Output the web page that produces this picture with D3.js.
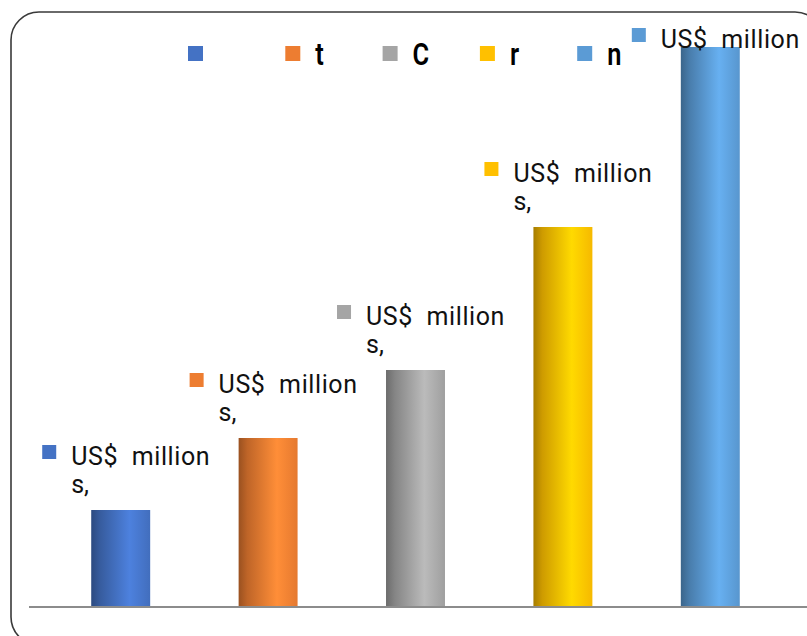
<!DOCTYPE html>
<html><head><meta charset="utf-8">
<script src="https://cdn.jsdelivr.net/npm/d3@7"></script>
<style>body{margin:0;background:#fff;}svg{display:block;}</style>
</head><body>
<svg id="c" width="807" height="636"></svg>
<script>
const categories = ["", "t", "C", "r", "n"];
const values = [97, 169, 237, 380, 560];
const colors = ["#4472C4", "#ED7D31", "#A5A5A5", "#FFC000", "#5B9BD5"];
const labelLine1 = ["US$  million", "US$  million", "US$  million", "US$  million", "US$  million"];
const labelLine2 = ["s,", "s,", "s,", "s,", ""];

const svg = d3.select("#c");

// frame
svg.append("rect").attr("x", 11).attr("y", 12).attr("width", 812).attr("height", 633)
  .attr("rx", 28).attr("ry", 28).attr("fill", "none").attr("stroke", "#3a3a3a").attr("stroke-width", 1.6);

const x = d3.scaleBand().domain(d3.range(categories.length)).range([47, 784])
  .paddingInner(0.6).paddingOuter(0.3);
const y = d3.scaleLinear().domain([0, 560]).range([607, 47]);

const defs = svg.append("defs");
colors.forEach((c, i) => {
  const g = defs.append("linearGradient").attr("id", "g" + i).attr("x1", "0%").attr("x2", "100%").attr("y1", "0%").attr("y2", "0%");
  g.append("stop").attr("offset", "0%").attr("stop-color", d3.rgb(c).darker(1.2));
  g.append("stop").attr("offset", "15%").attr("stop-color", d3.rgb(c).darker(0.6));
  g.append("stop").attr("offset", "65%").attr("stop-color", d3.rgb(c).brighter(0.35));
  g.append("stop").attr("offset", "100%").attr("stop-color", d3.rgb(c).darker(0.1));
});

svg.append("g").selectAll("rect").data(values).join("rect")
  .attr("x", (d, i) => x(i)).attr("width", x.bandwidth())
  .attr("y", d => y(d)).attr("height", d => y(0) - y(d))
  .attr("fill", (d, i) => `url(#g${i})`);

// axis line
svg.append("line").attr("x1", 29).attr("x2", 808).attr("y1", 607).attr("y2", 607)
  .attr("stroke", "#8c8c8c").attr("stroke-width", 2.2);

// legend
const lg = svg.append("g");
categories.forEach((c, i) => {
  const lx = 188 + i * 97.3;
  lg.append("rect").attr("x", lx).attr("y", 46).attr("width", 15).attr("height", 15).attr("fill", colors[i]);
  lg.append("text").attr("transform", `translate(${lx + 30},65) scale(0.82,1)`).text(c)
    .attr("font-family", "Roboto, sans-serif").attr("font-weight", 600).attr("font-size", 31).attr("fill", "#000");
});

// data labels
const dl = svg.append("g").attr("font-family", "Roboto, sans-serif").attr("font-size", 25).attr("fill", "#111");
values.forEach((v, i) => {
  const sx = x(i) - 49;
  const sy = Math.max(y(v) - 65, 28);
  dl.append("rect").attr("x", sx).attr("y", sy).attr("width", 14).attr("height", 14).attr("fill", colors[i]);
  const t = dl.append("text").attr("x", sx + 29).attr("y", sy + 20).style("white-space", "pre");
  t.append("tspan").attr("x", sx + 29).attr("letter-spacing", 0.6).text(labelLine1[i]);
  if (labelLine2[i]) t.append("tspan").attr("x", sx + 29).attr("dy", 28).text(labelLine2[i]);
});
</script>
</body></html>
